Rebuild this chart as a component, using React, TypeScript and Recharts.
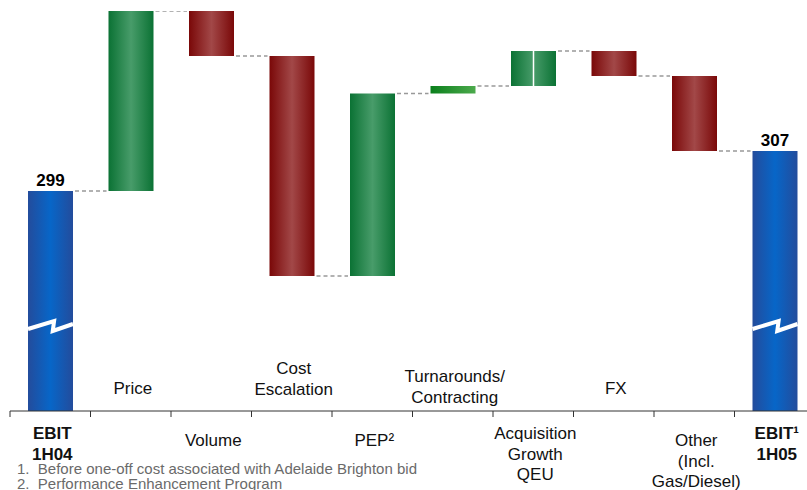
import React from "react";
import { BarChart, Bar, XAxis, YAxis, LabelList } from "recharts";

// EBIT bridge 1H04 -> 1H05 ($m), axis broken below 255
const startValue = 299;
const endValue = 307;
const axisFloor = 255;
const axisTop = 335;

const stepNames = [
  "Price",
  "Volume",
  "Cost Escalation",
  "PEP",
  "Turnarounds/Contracting",
  "Acquisition Growth QEU",
  "FX",
  "Other",
];
const stepDeltas = [36, -9, -44, 36.5, 1.5, 7, -5, -15];

const tickLines = [
  ["EBIT", "1H04"],
  ["Price"],
  ["Volume"],
  ["Cost", "Escalation"],
  ["PEP²"],
  ["Turnarounds/", "Contracting"],
  ["Acquisition", "Growth", "QEU"],
  ["FX"],
  ["Other", "(Incl.", "Gas/Diesel)"],
  ["EBIT¹", "1H05"],
];
// baseline of the first line, relative to the axis
const tickBaseline = [28, -17, 35, -37, 35, -29, 28, -17, 35, 28];

const footnotes = [
  "1.  Before one-off cost associated with Adelaide Brighton bid",
  "2.  Performance Enhancement Program",
];

const WIDTH = 815;
const HEIGHT = 490;
const PLOT_LEFT = 10;
const BAND = (WIDTH - PLOT_LEFT) / tickLines.length;

type Row = {
  name: string;
  range: [number, number];
  kind: "total" | "up" | "down";
  end: number;
  fill: string;
  split?: boolean;
};

function buildData(): Row[] {
  const rows: Row[] = [
    { name: "EBIT 1H04", range: [axisFloor, startValue], kind: "total", end: startValue, fill: "url(#gBlue)" },
  ];
  let level = startValue;
  stepDeltas.forEach((d, i) => {
    const prev = level;
    level = level + d;
    rows.push({
      name: stepNames[i],
      range: [Math.min(prev, level), Math.max(prev, level)],
      kind: d >= 0 ? "up" : "down",
      end: level,
      fill: i === 4 ? "url(#gGreenFlat)" : d >= 0 ? "url(#gGreen)" : "url(#gRed)",
      split: i === 5,
    });
  });
  rows.push({ name: "EBIT 1H05", range: [axisFloor, endValue], kind: "total", end: endValue, fill: "url(#gBlue)" });
  return rows;
}

const data = buildData();

function WaterfallBar(props: any) {
  const { x, y, width, height, payload, index } = props;
  const endY = payload.kind === "down" ? y + height : y;
  const last = index === data.length - 1;
  let breakMark = null;
  if (payload.kind === "total") {
    const top = payload.range[1];
    const by = y + height - ((272 - axisFloor) * height) / (top - axisFloor);
    breakMark = (
      <path
        d={`M${x},${by + 3} L${x + width * 0.58},${by - 5} L${x + width * 0.55},${by + 5} L${x + width},${by - 2}`}
        stroke="#fff"
        strokeWidth={4}
        fill="none"
      />
    );
  }
  return (
    <g>
      <rect x={x} y={y} width={width} height={Math.max(height, 1)} fill={payload.fill} />
      {payload.split && (
        <line x1={x + width / 2} x2={x + width / 2} y1={y} y2={y + height} stroke="#fff" strokeWidth={1.5} />
      )}
      {breakMark}
      {!last && (
        <line
          x1={x + width + 2}
          x2={x + BAND - 2}
          y1={endY}
          y2={endY}
          stroke="#999"
          strokeWidth={1.5}
          strokeDasharray="4 3"
        />
      )}
    </g>
  );
}

function CategoryTick(props: any) {
  const { x, y, index } = props;
  const lines = tickLines[index];
  const bold = index === 0 || index === tickLines.length - 1;
  return (
    <g>
      <line x1={x - BAND / 2} x2={x - BAND / 2} y1={y} y2={y + 6} stroke="#333" />
      <text
        x={x + 2}
        y={y + tickBaseline[index]}
        textAnchor="middle"
        fontSize={17}
        fontWeight={bold ? "bold" : "normal"}
        fill="#111"
      >
        {lines.map((l, i) => (
          <tspan key={i} x={x + 2} dy={i === 0 ? 0 : 20.5}>
            {l}
          </tspan>
        ))}
      </text>
    </g>
  );
}

export default function App() {
  return (
    <div style={{ position: "relative", width: 807, height: HEIGHT, overflow: "hidden", fontFamily: "'Liberation Sans', Arial, sans-serif" }}>
      <style>{"body{margin:0;overflow:hidden}"}</style>
      <BarChart
        width={WIDTH}
        height={HEIGHT}
        data={data}
        margin={{ top: 11, right: 0, bottom: 0, left: PLOT_LEFT }}
        style={{ fontFamily: "'Liberation Sans', Arial, sans-serif" }}
      >
        <defs>
          <linearGradient id="gBlue" x1="0" x2="1" y1="0" y2="0">
            <stop offset="0%" stopColor="#234c9c" />
            <stop offset="50%" stopColor="#0766c8" />
            <stop offset="100%" stopColor="#234c9c" />
          </linearGradient>
          <linearGradient id="gGreen" x1="0" x2="1" y1="0" y2="0">
            <stop offset="0%" stopColor="#0b7234" />
            <stop offset="50%" stopColor="#489c6a" />
            <stop offset="100%" stopColor="#0b7234" />
          </linearGradient>
          <linearGradient id="gGreenFlat" x1="0" x2="1" y1="0" y2="0">
            <stop offset="0%" stopColor="#0a7f1c" />
            <stop offset="100%" stopColor="#4caa4c" />
          </linearGradient>
          <linearGradient id="gRed" x1="0" x2="1" y1="0" y2="0">
            <stop offset="0%" stopColor="#7a0808" />
            <stop offset="50%" stopColor="#a24848" />
            <stop offset="100%" stopColor="#7a0808" />
          </linearGradient>
        </defs>
        <XAxis
          dataKey="name"
          height={79}
          interval={0}
          tickLine={false}
          tickSize={0}
          tickMargin={0}
          axisLine={{ stroke: "#333" }}
          tick={<CategoryTick />}
        />
        <YAxis hide domain={[axisFloor, axisTop]} allowDataOverflow />
        <Bar dataKey="range" barSize={45} shape={<WaterfallBar />} isAnimationActive={false}>
          <LabelList
            dataKey="end"
            content={(p: any) => {
              const row = data[p.index];
              if (!row || row.kind !== "total") return null;
              return (
                <text x={p.x + p.width / 2} y={p.y - 5} textAnchor="middle" fontSize={17} fontWeight="bold" fill="#000">
                  {row.end}
                </text>
              );
            }}
          />
        </Bar>
      </BarChart>
      {footnotes.map((f, i) => (
        <div
          key={i}
          style={{
            position: "absolute",
            left: 17,
            top: 461 + i * 15,
            fontSize: 15,
            lineHeight: "16px",
            color: "#6a6a6a",
            whiteSpace: "pre",
          }}
        >
          {f}
        </div>
      ))}
    </div>
  );
}
